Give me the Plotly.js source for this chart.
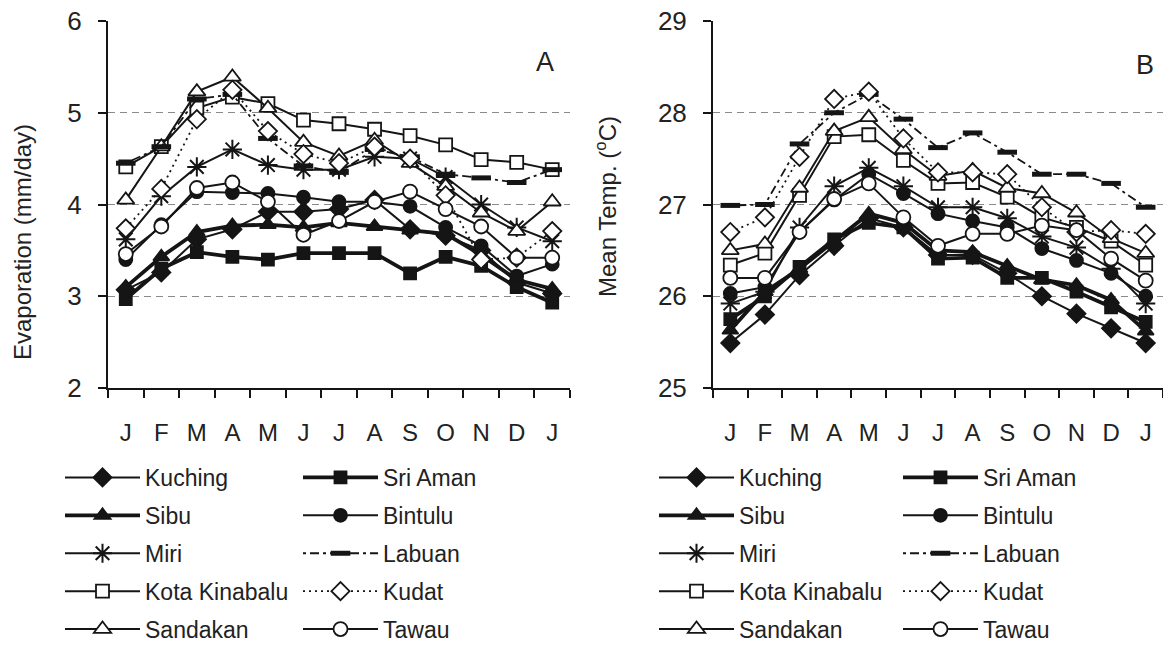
<!DOCTYPE html>
<html>
<head>
<meta charset="utf-8">
<script src="https://cdn.plot.ly/plotly-3.0.1.min.js"></script>
<style>html,body{margin:0;padding:0;background:#fff}#chart{width:1163px;height:645px}</style>
</head>
<body>
<div id="chart"></div>
<script>
// Month tick labels (Jan .. Dec, Jan)
const months = ['J','F','M','A','M','J','J','A','S','O','N','D','J'];
const monthIndex = [0,1,2,3,4,5,6,7,8,9,10,11,12];

// Station names
const stations = ['Kuching','Sri Aman','Sibu','Bintulu','Miri','Labuan','Kota Kinabalu','Kudat','Sandakan','Tawau'];

// Panel A: Evaporation (mm/day)
const evapKuching  = [3.07,3.26,3.62,3.73,3.92,3.92,3.95,4.05,3.73,3.66,3.50,3.15,3.03];
const evapSriAman  = [2.97,3.30,3.48,3.43,3.40,3.47,3.47,3.47,3.25,3.43,3.33,3.10,2.93];
const evapSibu     = [3.10,3.43,3.70,3.77,3.78,3.75,3.80,3.76,3.72,3.68,3.45,3.18,3.08];
const evapBintulu  = [3.40,3.78,4.14,4.13,4.12,4.08,4.03,4.03,3.98,3.75,3.55,3.22,3.35];
const evapMiri     = [3.62,4.09,4.41,4.60,4.43,4.38,4.38,4.52,4.50,4.30,4.00,3.75,3.60];
const evapLabuan   = [4.45,4.63,5.15,5.20,4.72,4.42,4.35,4.60,4.52,4.33,4.29,4.24,4.38];
const evapKK       = [4.41,4.63,5.05,5.17,5.10,4.92,4.88,4.82,4.75,4.65,4.49,4.46,4.38];
const evapKudat    = [3.74,4.17,4.93,5.25,4.80,4.55,4.45,4.63,4.50,4.10,3.40,3.42,3.71];
const evapSandakan = [4.05,4.63,5.23,5.39,5.05,4.68,4.53,4.70,4.45,4.20,3.91,3.71,4.03];
const evapTawau    = [3.46,3.76,4.18,4.24,4.03,3.67,3.82,4.03,4.14,3.95,3.76,3.42,3.42];

// Panel B: Mean temperature (°C)
const tempKuching  = [25.49,25.80,26.23,26.55,26.85,26.75,26.45,26.45,26.25,26.00,25.81,25.65,25.49];
const tempSriAman  = [25.75,26.00,26.32,26.62,26.80,26.75,26.41,26.42,26.20,26.20,26.05,25.88,25.72];
const tempSibu     = [25.63,26.05,26.30,26.60,26.90,26.80,26.50,26.48,26.33,26.18,26.12,25.96,25.62];
const tempBintulu  = [26.03,26.10,26.70,27.05,27.33,27.12,26.90,26.82,26.75,26.52,26.39,26.25,26.00];
const tempMiri     = [25.92,26.05,26.75,27.20,27.40,27.20,26.97,26.97,26.85,26.65,26.53,26.30,25.92];
const tempLabuan   = [26.99,27.00,27.66,28.00,28.20,27.93,27.62,27.78,27.57,27.33,27.33,27.23,26.97];
const tempKK       = [26.34,26.47,27.10,27.74,27.76,27.48,27.23,27.24,27.08,26.86,26.75,26.60,26.34];
const tempKudat    = [26.70,26.86,27.52,28.15,28.23,27.72,27.35,27.35,27.33,26.97,26.70,26.72,26.68];
const tempSandakan = [26.50,26.57,27.18,27.80,27.95,27.60,27.31,27.37,27.18,27.12,26.91,26.63,26.47];
const tempTawau    = [26.20,26.20,26.70,27.06,27.23,26.86,26.55,26.68,26.68,26.77,26.72,26.41,26.17];

const evapSeries = [evapKuching,evapSriAman,evapSibu,evapBintulu,evapMiri,evapLabuan,evapKK,evapKudat,evapSandakan,evapTawau];
const tempSeries = [tempKuching,tempSriAman,tempSibu,tempBintulu,tempMiri,tempLabuan,tempKK,tempKudat,tempSandakan,tempTawau];

const INK = '#151515';
const FONT = 'Liberation Sans, Arial, sans-serif';

// style per station
const styles = {
  'Kuching':       {symbol:'diamond',      fill:INK,    lw:2.0, dash:'solid',            size:14, col:0},
  'Sri Aman':      {symbol:'square',       fill:INK,    lw:3.8, dash:'solid',            size:12, col:1},
  'Sibu':          {symbol:'triangle-up',  fill:INK,    lw:3.8, dash:'solid',            size:14, col:0},
  'Bintulu':       {symbol:'circle',       fill:INK,    lw:2.0, dash:'solid',            size:13, col:1},
  'Miri':          {symbol:'asterisk',     fill:INK,    lw:2.0, dash:'solid',            size:16, col:0},
  'Labuan':        {symbol:'line-ew',      fill:INK,    lw:1.8, dash:'3px,4px,9px,4px',  size:14, col:1},
  'Kota Kinabalu': {symbol:'square',       fill:'#fff', lw:2.0, dash:'solid',            size:13, col:0},
  'Kudat':         {symbol:'diamond',      fill:'#fff', lw:1.8, dash:'2px,4px',          size:14, col:1},
  'Sandakan':      {symbol:'triangle-up',  fill:'#fff', lw:2.0, dash:'solid',            size:15, col:0},
  'Tawau':         {symbol:'circle',       fill:'#fff', lw:2.0, dash:'solid',            size:14, col:1}
};

function makeTrace(name, ys, panel, rank) {
  const s = styles[name];
  const legendId = panel === 'A' ? (s.col === 0 ? 'legend' : 'legend2') : (s.col === 0 ? 'legend3' : 'legend4');
  let mlw = 1.8;
  if (s.symbol === 'line-ew') mlw = 5;
  else if (s.symbol === 'asterisk') mlw = 2;
  return {
    type: 'scatter', mode: 'lines+markers', name: name,
    x: monthIndex, y: ys,
    xaxis: panel === 'A' ? 'x' : 'x2', yaxis: panel === 'A' ? 'y' : 'y2',
    legend: legendId, legendgroup: panel + name, legendrank: rank,
    line: {color: INK, width: s.lw, dash: s.dash},
    marker: {symbol: s.symbol, size: s.size, color: s.fill, line: {color: INK, width: mlw}},
    cliponaxis: false
  };
}

const legendOrder = ['Kuching','Sibu','Miri','Kota Kinabalu','Sandakan','Sri Aman','Bintulu','Labuan','Kudat','Tawau'];

const traces = [];
legendOrder.forEach((n, r) => traces.push(makeTrace(n, evapSeries[stations.indexOf(n)], 'A', r)));
legendOrder.forEach((n, r) => traces.push(makeTrace(n, tempSeries[stations.indexOf(n)], 'B', r)));

const W = 1163, H = 645;
const px = v => v / W, py = v => 1 - v / H;

function xAxis(domain) {
  return {
    domain: domain, range: [-0.5, 12.5], fixedrange: true,
    tickmode: 'array', tickvals: monthIndex, ticktext: months,
    ticks: '', showgrid: false, zeroline: false,
    showline: true, linecolor: INK, linewidth: 2,
    tickfont: {family: FONT, size: 24, color: '#222'},
    ticklabelstandoff: 22,
    minor: {tickmode: 'linear', tick0: -0.5, dtick: 1, ticks: 'outside', ticklen: 8, tickwidth: 2, tickcolor: INK, showgrid: false}
  };
}
function yAxis(range, anchor) {
  return {
    domain: [py(388), py(21)], range: range, dtick: 1, fixedrange: true, anchor: anchor,
    ticks: 'outside', ticklen: 8, tickwidth: 2, tickcolor: INK,
    showline: true, linecolor: INK, linewidth: 2, zeroline: false,
    showgrid: true, gridcolor: '#8a8a8a', gridwidth: 1, griddash: '7px,5px',
    tickfont: {family: FONT, size: 26, color: '#222'},
    ticklabelstandoff: 11
  };
}
function legendAt(xPix) {
  return {
    x: px(xPix), y: py(456), xanchor: 'left', yanchor: 'top',
    orientation: 'v', traceorder: 'grouped', tracegroupgap: 5, itemwidth: 75,
    bgcolor: 'rgba(0,0,0,0)', borderwidth: 0,
    font: {family: FONT, size: 23, color: '#222'}
  };
}

const layout = {
  width: W, height: H,
  margin: {l: 0, r: 0, t: 0, b: 0, autoexpand: false},
  paper_bgcolor: '#fff', plot_bgcolor: '#fff',
  showlegend: true,
  xaxis: xAxis([px(108), px(570)]),
  yaxis: yAxis([2, 6], 'x'),
  xaxis2: xAxis([px(713), 1]),
  yaxis2: yAxis([25, 29], 'x2'),
  legend: legendAt(60),
  legend2: legendAt(298),
  legend3: legendAt(654),
  legend4: legendAt(898),
  annotations: [
    {text: 'Evaporation (mm/day)', textangle: -90, xref: 'paper', yref: 'paper', x: px(22), y: py(242),
     showarrow: false, xanchor: 'center', yanchor: 'middle', font: {family: FONT, size: 24, color: '#222'}},
    {text: 'Mean Temp. (<sup>o</sup>C)', textangle: -90, xref: 'paper', yref: 'paper', x: px(606), y: py(207),
     showarrow: false, xanchor: 'center', yanchor: 'middle', font: {family: FONT, size: 24, color: '#222'}},
    {text: 'A', xref: 'paper', yref: 'paper', x: px(545), y: py(62), showarrow: false,
     xanchor: 'center', yanchor: 'middle', font: {family: FONT, size: 27, color: '#222'}},
    {text: 'B', xref: 'paper', yref: 'paper', x: px(1145), y: py(65), showarrow: false,
     xanchor: 'center', yanchor: 'middle', font: {family: FONT, size: 27, color: '#222'}}
  ]
};

Plotly.newPlot('chart', traces, layout, {displayModeBar: false, staticPlot: true});
</script>
</body>
</html>
